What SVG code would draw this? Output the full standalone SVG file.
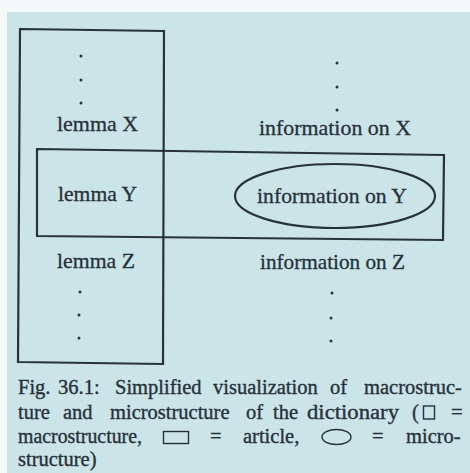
<svg xmlns="http://www.w3.org/2000/svg" width="470" height="473" viewBox="0 0 470 473">
<style>
.ln{fill:none;stroke:#27323b;stroke-width:2.2;stroke-linejoin:miter}
.t{font-family:"Liberation Serif","Times New Roman",serif;font-size:22px;fill:#26313a;stroke:#26313a;stroke-width:0.3}
.c{font-family:"Liberation Serif","Times New Roman",serif;font-size:20.5px;fill:#26313a;stroke:#26313a;stroke-width:0.35}
.d{fill:#27323b}
.sym{fill:none;stroke:#26313a;stroke-width:1.4}
</style>
<rect x="0" y="0" width="470" height="473" fill="#f4f8f8"/>
<rect x="7" y="12" width="463" height="461" fill="#cbe4e8"/>
<g id="macrostructure">
<path class="ln" d="M20,29 L164,31 L163,364 L18,362 Z"/>
<circle class="d" cx="81" cy="56" r="1.5"/>
<circle class="d" cx="81" cy="80" r="1.5"/>
<circle class="d" cx="81" cy="103" r="1.5"/>
<circle class="d" cx="80" cy="292" r="1.5"/>
<circle class="d" cx="79" cy="315" r="1.5"/>
<circle class="d" cx="79" cy="338" r="1.5"/>
</g>
<g id="article">
<path class="ln" d="M37,149 L444,155 L443,240 L37,236 Z"/>
</g>
<g id="microstructure">
<ellipse class="ln" cx="335" cy="196" rx="100" ry="32"/>
</g>
<g id="lemma-x"><text class="t" x="57" y="131" textLength="81" lengthAdjust="spacingAndGlyphs">lemma X</text></g>
<g id="lemma-y"><text class="t" x="58" y="201" textLength="79" lengthAdjust="spacingAndGlyphs">lemma Y</text></g>
<g id="lemma-z"><text class="t" x="57" y="268" textLength="78" lengthAdjust="spacingAndGlyphs">lemma Z</text></g>
<g id="info-x">
<text class="t" x="259" y="135" textLength="152" lengthAdjust="spacingAndGlyphs">information on X</text>
<circle class="d" cx="337" cy="63" r="1.5"/>
<circle class="d" cx="337" cy="87" r="1.5"/>
<circle class="d" cx="337" cy="110" r="1.5"/>
</g>
<g id="info-y"><text class="t" x="257" y="203" textLength="150" lengthAdjust="spacingAndGlyphs">information on Y</text></g>
<g id="info-z">
<text class="t" x="260" y="269" textLength="145" lengthAdjust="spacingAndGlyphs">information on Z</text>
<circle class="d" cx="332" cy="293" r="1.5"/>
<circle class="d" cx="331" cy="318" r="1.5"/>
<circle class="d" cx="331" cy="341" r="1.5"/>
</g>
<g id="caption">
<text class="c" y="394"><tspan x="18">Fig.</tspan><tspan x="58">36.1:</tspan><tspan x="115">Simplified</tspan><tspan x="213">visualization</tspan><tspan x="330">of</tspan><tspan x="364">macrostruc-</tspan></text>
<text class="c" y="419"><tspan x="18">ture</tspan><tspan x="63">and</tspan><tspan x="110">microstructure</tspan><tspan x="246">of</tspan><tspan x="273">the</tspan><tspan x="307" textLength="92" lengthAdjust="spacingAndGlyphs">dictionary</tspan><tspan x="412">(</tspan><tspan x="451">=</tspan></text>
<rect class="sym" x="423.5" y="406" width="11" height="13"/>
<text class="c" y="443"><tspan x="18" textLength="124" lengthAdjust="spacingAndGlyphs">macrostructure,</tspan><tspan x="210">=</tspan><tspan x="243">article,</tspan><tspan x="372">=</tspan><tspan x="406">micro-</tspan></text>
<rect class="sym" x="163.5" y="431.5" width="25" height="12"/>
<ellipse class="sym" cx="336.5" cy="437" rx="14.5" ry="7.5"/>
<text class="c" x="18" y="466">structure)</text>
</g>
</svg>
